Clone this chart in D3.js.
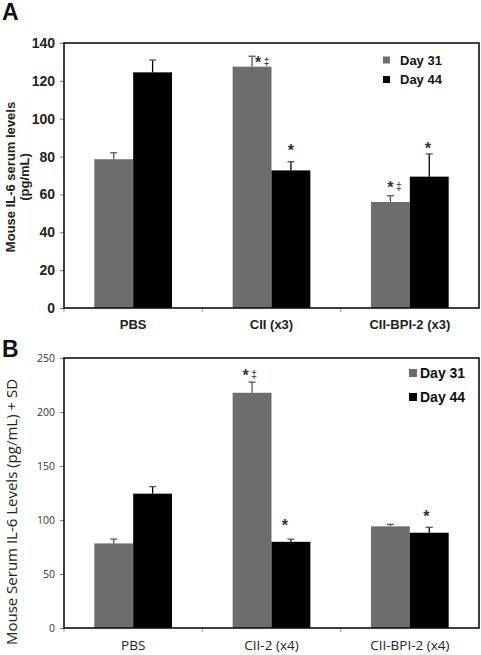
<!DOCTYPE html>
<html><head><meta charset="utf-8">
<script src="https://cdn.jsdelivr.net/npm/d3@7"></script>
<style>body{margin:0;background:#fff}svg{display:block}</style>
</head><body>
<svg id="c" width="481" height="655"></svg>
<script>
// ---- data ----
const seriesNames = ["Day 31", "Day 44"];
const catsA = ["PBS", "CII (x3)", "CII-BPI-2 (x3)"];
const day31A = [78.6, 127.5, 56];
const day44A = [124.5, 72.7, 69.4];
const errTop31A = [82, 133, 59.3];
const errTop44A = [131, 77.3, 81.4];
const marks31A = ["", "*‡", "*‡"];
const marks44A = ["", "*", "*"];
const ticksA = [0, 20, 40, 60, 80, 100, 120, 140];

const catsB = ["PBS", "CII-2 (x4)", "CII-BPI-2 (x4)"];
const day31B = [78.3, 217.8, 94.1];
const day44B = [124.4, 79.8, 88.2];
const errTop31B = [82.3, 227.7, 96];
const errTop44B = [130.9, 82.3, 93.2];
const marks31B = ["", "*‡", ""];
const marks44B = ["", "*", "*"];
const ticksB = [0, 50, 100, 150, 200, 250];

const svg = d3.select("#c");
const GRAY = "#6d6d6d";
const ARIAL = "Liberation Sans, Arial, sans-serif";

function drawMark(g, m, cx, cy) {
  const hasD = m.indexOf("‡") >= 0;
  const ax = hasD ? cx - 4 : cx;
  g.append("text").attr("x", ax).attr("y", cy + 7.5).attr("text-anchor", "middle")
    .attr("font-family", ARIAL).attr("font-size", 16).attr("font-weight", "bold").attr("fill", "#333").text("*");
  if (hasD) {
    g.append("text").attr("x", cx + 4.5).attr("y", cy + 4.5).attr("text-anchor", "middle")
      .attr("font-family", ARIAL).attr("font-size", 11).attr("fill", "#333").text("‡");
  }
}

function panel(o) {
  const g = svg.append("g");
  const x = d3.scaleBand().domain(o.cats).range([o.left, o.right]).paddingInner(0).paddingOuter(0);
  const inner = d3.scaleBand().domain(seriesNames).range([0, x.bandwidth()]).paddingInner(0).paddingOuter(0.78);
  const y = d3.scaleLinear().domain([0, o.max]).range([o.bottom, o.top]);

  const data = [o.d31, o.d44];
  const errs = [o.e31, o.e44];
  const marks = [o.m31, o.m44];
  const cols = [GRAY, "#000"];
  data.forEach((arr, si) => {
    g.selectAll(null).data(arr).join("rect")
      .attr("x", (d, i) => x(o.cats[i]) + inner(seriesNames[si]))
      .attr("y", d => y(d))
      .attr("width", inner.bandwidth())
      .attr("height", d => y(0) - y(d))
      .attr("fill", cols[si]);
    arr.forEach((d, i) => {
      const cx = x(o.cats[i]) + inner(seriesNames[si]) + inner.bandwidth() / 2;
      const et = errs[si][i];
      g.append("line").attr("x1", cx).attr("x2", cx).attr("y1", y(d)).attr("y2", y(et))
        .attr("stroke", si === 1 ? "#000" : "#555").attr("stroke-width", 1.3);
      g.append("line").attr("x1", cx - 3.5).attr("x2", cx + 3.5).attr("y1", y(et)).attr("y2", y(et))
        .attr("stroke", "#555").attr("stroke-width", 1.3);
      const m = marks[si][i];
      if (m) {
        const off = o.markOff[si][i];
        drawMark(g, m, cx + off[0], y(et) + off[1]);
      }
    });
  });

  // y axis
  const ya = d3.axisLeft(y).tickValues(o.ticks).tickSize(4).tickPadding(5);
  const yg = g.append("g").attr("transform", `translate(${o.left},0)`).call(ya);
  yg.select(".domain").remove();
  yg.selectAll(".tick line").attr("stroke", "#777");
  yg.selectAll(".tick text").attr("font-family", o.tickFont).attr("font-size", o.tickSize)
    .attr("font-weight", o.tickWeight).attr("fill", o.tickFill);

  // x axis
  const xa = d3.axisBottom(x).tickSize(0).tickPadding(o.xPad);
  const xg = g.append("g").attr("transform", `translate(0,${o.bottom})`).call(xa);
  xg.select(".domain").remove();
  xg.selectAll(".tick text").attr("font-family", o.xFont).attr("font-size", o.xSize)
    .attr("font-weight", o.xWeight).attr("fill", o.xFill);
  o.cats.forEach(c => {
    g.append("line").attr("x1", x(c)).attr("x2", x(c)).attr("y1", o.bottom).attr("y2", o.bottom + 4)
      .attr("stroke", "#999").attr("stroke-width", 1);
  });

  // frame
  g.append("rect").attr("x", o.left).attr("y", o.top).attr("width", o.right - o.left)
    .attr("height", o.bottom - o.top).attr("fill", "none").attr("stroke", "#111").attr("stroke-width", o.frameW);

  // legend
  seriesNames.forEach((s, i) => {
    const ly = o.legY + i * o.legGap;
    g.append("rect").attr("x", o.legX).attr("y", ly - o.sq / 2).attr("width", o.sq).attr("height", o.sq).attr("fill", cols[i]);
    g.append("text").attr("x", o.legX + o.legTx).attr("y", ly).attr("dy", "0.36em")
      .attr("font-family", ARIAL).attr("font-weight", "bold")
      .attr("font-size", o.legSize).attr("fill", "#111").text(s);
  });

  // y title
  o.yTitle.forEach((t, i) => {
    g.append("text").attr("transform", `translate(${o.yTitleX[i]},${o.yTitleY}) rotate(-90)`)
      .attr("text-anchor", "middle").attr("dy", "0.35em")
      .attr("font-family", o.yFont).attr("font-size", o.ySize).attr("font-weight", o.yWeight)
      .attr("fill", o.yFill).text(t);
  });

  // panel letter
  g.append("text").attr("x", 2).attr("y", o.letterY).attr("font-family", ARIAL)
    .attr("font-weight", "bold").attr("font-size", 23).attr("fill", "#111").text(o.letter);
}

panel({
  letter: "A", letterY: 20,
  cats: catsA, d31: day31A, d44: day44A, e31: errTop31A, e44: errTop44A, m31: marks31A, m44: marks44A,
  ticks: ticksA, max: 140, left: 64, right: 479, top: 43, bottom: 308, frameW: 1.6,
  tickFont: ARIAL, tickSize: 14, tickWeight: "bold", tickFill: "#222",
  xFont: ARIAL, xSize: 13, xWeight: "bold", xFill: "#222", xPad: 12,
  markOff: [[null, [10, 4], [4, -10.5]], [null, [0, -13], [-1.5, -7.3]]],
  legX: 383, legY: 60, legGap: 19.5, sq: 7, legTx: 17, legSize: 13,
  yTitle: ["Mouse IL-6 serum levels", "(pg/mL)"], yTitleX: [10, 24], yTitleY: 177,
  yFont: ARIAL, ySize: 13, yWeight: "bold", yFill: "#222"
});

panel({
  letter: "B", letterY: 357,
  cats: catsB, d31: day31B, d44: day44B, e31: errTop31B, e44: errTop44B, m31: marks31B, m44: marks44B,
  ticks: ticksB, max: 250, left: 64, right: 479, top: 358, bottom: 628, frameW: 1.6,
  tickFont: "Open Sans, sans-serif", tickSize: 10.5, tickWeight: "normal", tickFill: "#333",
  xFont: "Open Sans, sans-serif", xSize: 13.5, xWeight: "normal", xFill: "#222", xPad: 12,
  markOff: [[null, [-2.5, -8.5], null], [null, [-6, -16], [-3, -13]]],
  legX: 409, legY: 373, legGap: 24, sq: 8, legTx: 11, legSize: 14,
  yTitle: ["Mouse Serum IL-6 Levels (pg/mL) + SD"], yTitleX: [12], yTitleY: 512,
  yFont: "Open Sans, sans-serif", ySize: 15, yWeight: "normal", yFill: "#222"
});
</script>
</body></html>
